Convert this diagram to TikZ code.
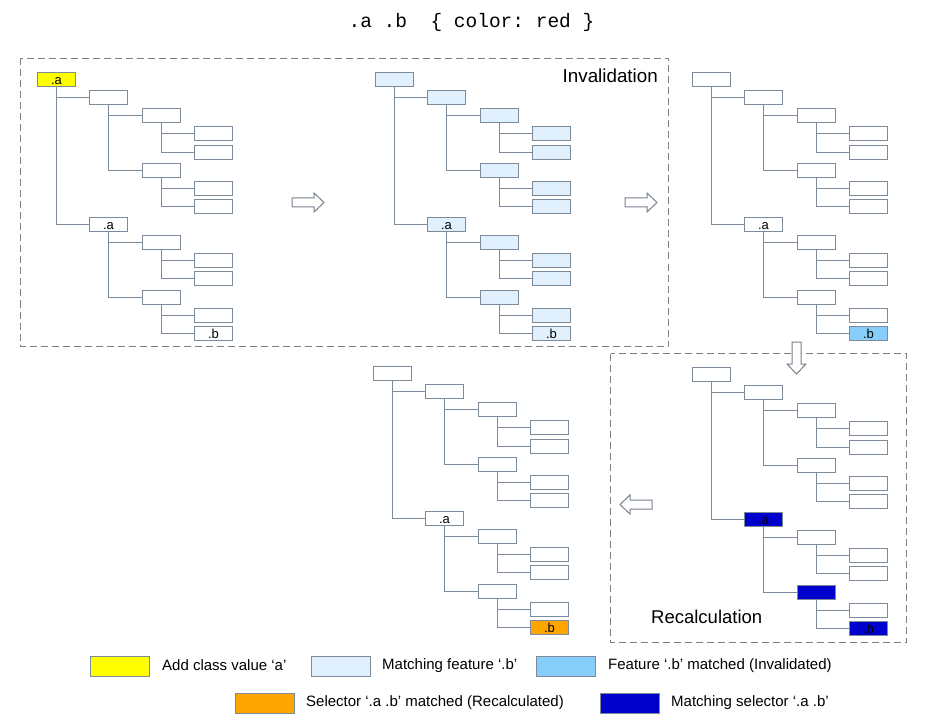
\documentclass[tikz,border=0pt]{standalone}
\usepackage{fontspec}
\setmainfont{Liberation Sans}
\setmonofont{Liberation Mono}
\definecolor{boxline}{RGB}{125,138,153}
\definecolor{lightfill}{RGB}{224,240,252}
\definecolor{skyfill}{RGB}{135,206,250}
\definecolor{darkfill}{RGB}{0,0,204}
\definecolor{orangefill}{RGB}{255,165,0}
\definecolor{yellowfill}{RGB}{255,255,0}
\definecolor{dashgray}{RGB}{128,128,128}
\definecolor{arrowgray}{RGB}{120,130,140}
\tikzset{
  treebox/.style={draw=boxline, line width=1.4pt, minimum width=38pt, minimum height=14pt,
    inner sep=0pt, outer sep=0pt, font=\fontsize{13}{13}\selectfont, text height=9.2pt, text depth=0pt},
  treeline/.style={draw=boxline, line width=1.4pt},
  phasebox/.style={draw=dashgray, line width=1.7pt, dash pattern=on 7pt off 4pt},
  blockarrow/.style={draw=arrowgray, fill=white, line width=1pt, line join=miter},
  legendbox/.style={draw=boxline, line width=1pt, minimum width=59pt, minimum height=20pt, inner sep=0pt},
  legendtext/.style={anchor=west, font=\fontsize{15}{15}\selectfont, inner sep=0pt},
  phasetext/.style={inner sep=0pt},
  hollowarrow/.pic={\draw[blockarrow] (0,-4.5) -- (22,-4.5) -- (22,-9.5) -- (32,0) -- (22,9.5) -- (22,4.5) -- (0,4.5) -- cycle;}
}
% #1 prefix, #2 x, #3 y, #4 base fill, #5 root style, #6 root text, #7 row8 style, #8 row12 style, #9 row14 style
\newcommand\drawtree[9]{%
  \begin{scope}[shift={(#2,#3)}]
    \node[treebox,fill=#4,#5] (#1n0) at (19.5,0.5) {#6};
    \node[treebox,fill=#4] (#1n1) at (71.5,18.5) {};
    \node[treebox,fill=#4] (#1n2) at (124.5,36.5) {};
    \node[treebox,fill=#4] (#1n3) at (176.5,54.5) {};
    \node[treebox,fill=#4] (#1n4) at (176.5,73.5) {};
    \node[treebox,fill=#4] (#1n5) at (124.5,91.5) {};
    \node[treebox,fill=#4] (#1n6) at (176.5,109.5) {};
    \node[treebox,fill=#4] (#1n7) at (176.5,127.5) {};
    \node[treebox,fill=#4,#7] (#1n8) at (71.5,145.5) {.a};
    \node[treebox,fill=#4] (#1n9) at (124.5,163.5) {};
    \node[treebox,fill=#4] (#1n10) at (176.5,181.5) {};
    \node[treebox,fill=#4] (#1n11) at (176.5,199.5) {};
    \node[treebox,fill=#4,#8] (#1n12) at (124.5,218.5) {};
    \node[treebox,fill=#4] (#1n13) at (176.5,236.5) {};
    \node[treebox,fill=#4,#9] (#1n14) at (176.5,254.5) {.b};
    \draw[treeline] (#1n0.south) |- (#1n8.west) (#1n0.south |- #1n1.west) -- (#1n1.west);
    \draw[treeline] (#1n1.south) |- (#1n5.west) (#1n1.south |- #1n2.west) -- (#1n2.west);
    \draw[treeline] (#1n2.south) |- (#1n4.west) (#1n2.south |- #1n3.west) -- (#1n3.west);
    \draw[treeline] (#1n5.south) |- (#1n7.west) (#1n5.south |- #1n6.west) -- (#1n6.west);
    \draw[treeline] (#1n8.south) |- (#1n12.west) (#1n8.south |- #1n9.west) -- (#1n9.west);
    \draw[treeline] (#1n9.south) |- (#1n11.west) (#1n9.south |- #1n10.west) -- (#1n10.west);
    \draw[treeline] (#1n12.south) |- (#1n14.west) (#1n12.south |- #1n13.west) -- (#1n13.west);
  \end{scope}}
\begin{document}
\begin{tikzpicture}[x=1pt,y=-1pt]
\useasboundingbox[fill=white] (0,0) rectangle (934,727);
% title
\node[inner sep=0pt] (title) at (471.5,22) {\ttfamily\fontsize{19.5}{19.5}\selectfont .a .b\ \ \{ color: red \}};
% phase frames
\draw[phasebox] (20.5,58.5) rectangle (668.5,346.5);
\draw[phasebox] (610.5,353.5) rectangle (906.5,642.5);
\node[phasetext, anchor=base east, font=\fontsize{18.8}{18.8}\selectfont] (inv) at (658,83) {Invalidation};
\node[phasetext, anchor=base west, font=\fontsize{18.5}{18.5}\selectfont] (rec) at (651,623) {Recalculation};
% trees
\drawtree{a}{37}{79}{white}{fill=yellowfill}{.a}{}{}{}
\drawtree{b}{375}{79}{lightfill}{}{}{}{}{}
\drawtree{c}{692}{79}{white}{}{}{}{}{fill=skyfill}
\drawtree{d}{692}{374}{white}{}{}{fill=darkfill}{fill=darkfill}{fill=darkfill}
\drawtree{e}{373}{373}{white}{}{}{}{}{fill=orangefill}
% block arrows
\pic at (292,202.5) {hollowarrow};
\pic at (625,202.5) {hollowarrow};
\pic[rotate=-90] at (796.5,342) {hollowarrow};
\pic[rotate=180] at (652,504.5) {hollowarrow};
% legend
\node[legendbox, fill=yellowfill] (lg1) at (119.5,666) {};
\node[legendtext] (lt1) at (162,665.5) {Add class value ‘a’};
\node[legendbox, fill=lightfill] (lg2) at (341,666) {};
\node[legendtext] (lt2) at (382,665.5) {Matching feature ‘.b’};
\node[legendbox, fill=skyfill] (lg3) at (566,666) {};
\node[legendtext] (lt3) at (608,665.5) {Feature ‘.b’ matched (Invalidated)};
\node[legendbox, fill=orangefill] (lg4) at (265,703) {};
\node[legendtext] (lt4) at (306,702.5) {Selector ‘.a .b’ matched (Recalculated)};
\node[legendbox, fill=darkfill] (lg5) at (630,703) {};
\node[legendtext] (lt5) at (671,702.5) {Matching selector ‘.a .b’};
\end{tikzpicture}
\end{document}
